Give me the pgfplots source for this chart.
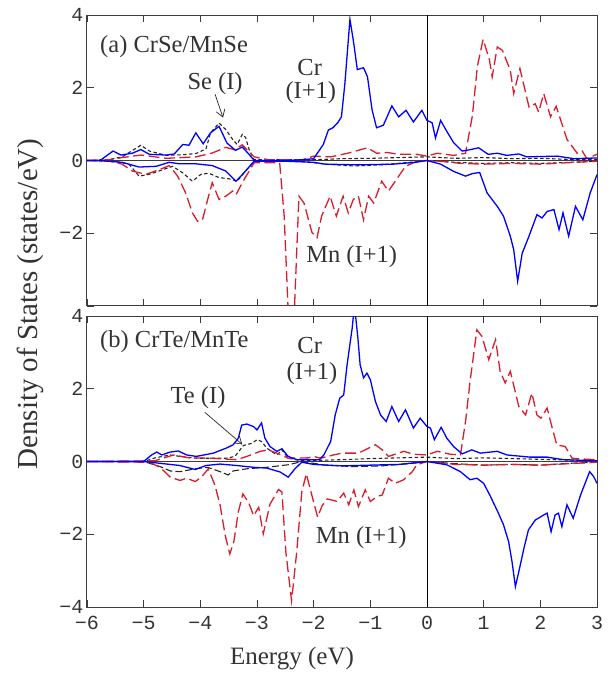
\documentclass[border=0pt]{standalone}
\usepackage{fontspec}
\setmainfont{Liberation Serif}
\newfontfamily\tickfont{Liberation Mono}
\usepackage{pgfplots}
\pgfplotsset{compat=1.18}
\usetikzlibrary{arrows.meta}

\definecolor{mnred}{RGB}{214,30,45}
\definecolor{axgray}{RGB}{60,60,60}

\pgfplotsset{
  dos/.style={
    scale only axis, width=510pt, height=291pt,
    xmin=-6, xmax=3, ymin=-4, ymax=4,
    xtick={-6,-5,...,3}, ytick={-4,-2,0,2,4},
    tick align=inside, major tick length=7pt,
    axis line style={axgray, line width=1pt},
    tick style={axgray, line width=0.9pt},
    ticklabel style={font=\tickfont\fontsize{20}{20}\selectfont, text=black!80},
    xticklabel style={yshift=-6pt},
  },
  cr/.style={blue, line width=1.3pt},
  mn/.style={mnred, line width=1.3pt, dash pattern=on 11pt off 4.5pt},
  an/.style={black!85, line width=1.1pt, dash pattern=on 3.5pt off 2.5pt},
  zl/.style={axgray, line width=1.1pt},
}
\tikzset{
  lab/.style={font=\fontsize{24.5}{26}\selectfont, text=black!80, inner sep=0pt},
  arr/.style={black!85, line width=0.7pt, -{Straight Barb[length=7pt,width=9pt]}},
}

\begin{document}
\begin{tikzpicture}
% (a) CrSe/MnSe
\begin{axis}[dos, name=a, at={(0,0)}, anchor=north west,
  xticklabels={}, yticklabels={{},−2,0,2,4}]
\addplot[zl] coordinates {(-6,0) (3,0)};
\addplot[black, line width=0.9pt] coordinates {(0,-4) (0,4)};
% Se (I) up / down
\addplot[an] coordinates {(-6,0) (-5.6,0.03) (-5.38,0.1) (-5.05,0.42) (-4.9,0.26) (-4.6,0.14) (-4.3,0.16) (-4.08,0.19) (-3.9,0.32) (-3.82,0.76) (-3.67,1.03) (-3.55,0.85) (-3.43,0.58) (-3.35,0.44) (-3.26,0.72) (-3.2,0.63) (-3.14,0.3) (-3.05,0.02) (-2.0,0.02) (-1.5,0.05) (-1.0,0.06) (-0.5,0.08) (0,0.1) (0.5,0.06) (1.0,0.08) (1.5,0.05) (2.0,0.06) (2.5,0.03) (3,0.02)};
\addplot[an] coordinates {(-6,0) (-5.5,-0.03) (-5.26,-0.1) (-5.08,-0.43) (-4.9,-0.38) (-4.66,-0.25) (-4.49,-0.16) (-4.31,-0.34) (-4.14,-0.57) (-3.99,-0.38) (-3.85,-0.35) (-3.67,-0.47) (-3.5,-0.5) (-3.35,-0.57) (-3.23,-0.34) (-3.05,-0.02) (-2.2,-0.02) (-1.8,-0.1) (-1.3,-0.15) (-0.8,-0.12) (-0.3,-0.05) (0,0) (0.5,-0.05) (1.0,-0.08) (1.5,-0.06) (2.0,-0.08) (2.5,-0.05) (3,-0.02)};
% Mn (I+1) up / down
\addplot[mn] coordinates {(-6,0) (-5.6,0.02) (-5.38,0.08) (-5.05,0.15) (-4.6,0.06) (-4.08,0.1) (-3.8,0.2) (-3.55,0.36) (-3.4,0.3) (-3.26,0.43) (-3.05,0.1) (-2.8,0.02) (-2.2,0.02) (-2.0,0.12) (-1.7,0.1) (-1.4,0.2) (-1.05,0.35) (-0.89,0.2) (-0.7,0.22) (-0.5,0.17) (-0.18,0.17) (0,0.12) (0.18,0.2) (0.47,0.14) (0.68,0.2) (0.8,1.22) (0.89,2.6) (0.99,3.33) (1.1,2.78) (1.15,2.3) (1.24,3.12) (1.33,3.03) (1.47,2.48) (1.53,1.84) (1.64,2.53) (1.8,1.47) (1.91,1.56) (1.97,1.33) (2.06,1.84) (2.18,1.2) (2.28,1.49) (2.47,0.58) (2.65,0.2) (2.74,0.26) (2.82,0.05) (3,0.17)};
\addplot[mn] coordinates {(-6,0) (-5.6,-0.02) (-5.38,-0.1) (-5.2,-0.29) (-4.96,-0.38) (-4.72,-0.25) (-4.55,-0.14) (-4.4,-0.43) (-4.26,-0.89) (-4.14,-1.44) (-4.05,-1.67) (-3.96,-1.62) (-3.87,-1.07) (-3.79,-0.61) (-3.67,-1.07) (-3.55,-0.98) (-3.43,-0.84) (-3.37,-0.94) (-3.26,-0.61) (-3.05,-0.06) (-2.6,-0.06) (-2.52,-1.53) (-2.44,-4.5) (-2.35,-4.5) (-2.26,-0.98) (-2.17,-1.17) (-2.03,-1.98) (-1.94,-2.12) (-1.86,-1.53) (-1.71,-0.98) (-1.6,-1.53) (-1.48,-0.98) (-1.39,-1.44) (-1.3,-1.07) (-1.21,-0.98) (-1.12,-1.63) (-1.03,-0.98) (-0.94,-1.17) (-0.8,-0.57) (-0.68,-0.84) (-0.56,-0.57) (-0.38,-0.16) (-0.18,-0.02) (0,0) (0.3,-0.03) (0.6,-0.08) (1.0,-0.1) (1.5,-0.08) (2.0,-0.1) (2.5,-0.06) (3,-0.02)};
% Cr (I+1) up / down
\addplot[cr] coordinates {(-6,0) (-5.77,0) (-5.54,0.26) (-5.4,0.15) (-5.2,0.2) (-5.05,0.3) (-4.9,0.17) (-4.6,0.15) (-4.46,0.18) (-4.31,0.44) (-4.2,0.42) (-4.08,0.76) (-3.95,0.46) (-3.82,0.76) (-3.67,0.94) (-3.53,0.48) (-3.38,0.28) (-3.26,0.37) (-3.14,0.17) (-3.05,0.0) (-2.5,0.0) (-2.2,0.02) (-2.0,0.05) (-1.83,0.44) (-1.74,0.84) (-1.66,0.9) (-1.57,1.05) (-1.51,1.2) (-1.45,2.1) (-1.36,3.88) (-1.3,3.3) (-1.23,2.5) (-1.12,2.55) (-1.05,2.3) (-0.97,1.4) (-0.89,0.9) (-0.77,0.97) (-0.62,1.5) (-0.5,1.2) (-0.37,1.38) (-0.24,1.06) (-0.09,1.38) (0,1.1) (0.09,1.04) (0.15,0.62) (0.24,1.1) (0.35,0.8) (0.47,0.49) (0.62,0.26) (0.77,0.3) (0.91,0.35) (1.08,0.17) (1.24,0.2) (1.41,0.14) (1.62,0.18) (1.76,0.1) (2.3,0.12) (2.59,0.05) (3,0.07)};
\addplot[cr] coordinates {(-6,0) (-5.77,0) (-5.38,-0.05) (-5.08,-0.18) (-4.78,-0.16) (-4.55,-0.05) (-4.37,-0.09) (-4.08,-0.09) (-3.79,-0.14) (-3.55,-0.29) (-3.37,-0.57) (-3.26,-0.39) (-3.05,-0.02) (-2.5,-0.02) (-2.0,-0.05) (-1.8,-0.1) (-1.2,-0.12) (-0.6,-0.1) (-0.2,-0.05) (0,0) (0.24,-0.1) (0.47,-0.3) (0.68,-0.43) (0.8,-0.36) (0.93,-0.33) (1.06,-0.89) (1.24,-1.26) (1.35,-1.53) (1.47,-2.08) (1.53,-2.45) (1.6,-3.32) (1.68,-2.55) (1.8,-2.08) (1.94,-1.49) (2.03,-1.58) (2.12,-1.4) (2.24,-1.35) (2.33,-1.9) (2.4,-1.44) (2.5,-2.08) (2.62,-1.26) (2.75,-1.63) (2.88,-0.89) (3.0,-0.39)};
\node[lab, anchor=west] at (axis cs:-5.77,3.12) {(a) CrSe/MnSe};
\node[lab] at (axis cs:-3.74,2.12) {Se (I)};
\draw[arr] (axis cs:-3.74,1.82) -- (axis cs:-3.6,1.18);
\node[lab] at (axis cs:-2.07,2.56) {Cr};
\node[lab] at (axis cs:-2.05,1.87) {(I+1)};
\node[lab] at (axis cs:-1.33,-2.64) {Mn (I+1)};
\end{axis}

% (b) CrTe/MnTe
\begin{axis}[dos, name=b, at={(0,-301pt)}, anchor=north west,
  xticklabels={−6,−5,−4,−3,−2,−1,0,1,2,3}, yticklabels={−4,−2,0,2,4}]
\addplot[zl] coordinates {(-6,0) (3,0)};
\addplot[black, line width=0.9pt] coordinates {(0,-4) (0,4)};
% Te (I) up / down
\addplot[an] coordinates {(-6,0) (-5.0,0) (-4.8,0.1) (-4.53,0.18) (-4.36,0.14) (-4.07,0.09) (-3.54,0.09) (-3.39,0.14) (-3.24,0.44) (-3.09,0.5) (-3.0,0.6) (-2.92,0.55) (-2.83,0.37) (-2.65,0.18) (-2.56,0.32) (-2.45,0.09) (-2.2,0.02) (-1.5,0.05) (-1.0,0.08) (-0.5,0.1) (0,0.12) (0.5,0.08) (1.0,0.1) (1.5,0.08) (2.0,0.06) (2.5,0.04) (3,0.02)};
\addplot[an, dash pattern=on 7pt off 3pt] coordinates {(-6,0) (-5.0,0) (-4.71,-0.14) (-4.53,-0.26) (-4.36,-0.28) (-4.09,-0.2) (-3.87,-0.16) (-3.65,-0.28) (-3.51,-0.37) (-3.42,-0.26) (-3.18,-0.2) (-2.83,-0.16) (-2.45,-0.09) (-2.2,0) (-1.8,-0.1) (-1.3,-0.14) (-0.8,-0.12) (-0.3,-0.06) (0,0) (0.5,-0.06) (1.0,-0.1) (1.5,-0.08) (2.0,-0.1) (2.5,-0.05) (3,-0.02)};
% Mn (I+1) up / down
\addplot[mn] coordinates {(-6,0) (-4.8,0.02) (-4.6,0.12) (-4.47,0.18) (-4.2,0.1) (-3.8,0.09) (-3.36,0.05) (-3.18,0.14) (-2.94,0.28) (-2.8,0.32) (-2.65,0.23) (-2.45,0.09) (-2.1,0.1) (-2.0,0.14) (-1.88,0.09) (-1.65,0.18) (-1.5,0.23) (-1.21,0.23) (-0.91,0.46) (-0.79,0.32) (-0.68,0.14) (-0.41,0.28) (-0.24,0.2) (0,0.18) (0.18,0.28) (0.41,0.2) (0.59,0.18) (0.68,1.1) (0.76,2.2) (0.88,3.62) (0.97,3.44) (1.09,2.8) (1.21,3.35) (1.29,2.48) (1.38,2.16) (1.47,2.48) (1.62,1.51) (1.74,1.28) (1.85,1.88) (1.94,1.28) (2.01,1.19) (2.12,1.47) (2.21,0.92) (2.29,0.46) (2.44,0.41) (2.56,0.09) (2.71,0.07) (3,0.05)};
\addplot[mn] coordinates {(-6,0) (-4.9,-0.02) (-4.71,-0.16) (-4.53,-0.43) (-4.36,-0.52) (-4.24,-0.46) (-4.09,-0.55) (-3.98,-0.43) (-3.86,-0.2) (-3.74,-0.66) (-3.65,-1.21) (-3.56,-2.04) (-3.48,-2.54) (-3.41,-2.22) (-3.33,-1.39) (-3.25,-0.89) (-3.15,-1.12) (-3.06,-1.49) (-2.97,-1.26) (-2.89,-1.99) (-2.77,-1.17) (-2.62,-0.77) (-2.56,-0.84) (-2.49,-2.5) (-2.39,-3.83) (-2.3,-2.5) (-2.21,-0.84) (-2.13,-0.34) (-2.03,-0.94) (-1.93,-1.53) (-1.85,-1.21) (-1.76,-1.03) (-1.65,-1.07) (-1.59,-1.1) (-1.47,-0.87) (-1.38,-1.19) (-1.29,-0.78) (-1.21,-1.24) (-1.09,-0.78) (-1.0,-1.1) (-0.88,-0.96) (-0.79,-0.92) (-0.68,-0.46) (-0.56,-0.6) (-0.41,-0.5) (-0.26,-0.28) (-0.18,-0.09) (0,0) (0.5,-0.08) (1.0,-0.1) (1.5,-0.08) (2.0,-0.1) (2.5,-0.06) (3,-0.02)};
% Cr (I+1) up / down
\addplot[cr] coordinates {(-6,0) (-5.0,0) (-4.86,0.18) (-4.77,0.26) (-4.68,0.18) (-4.53,0.26) (-4.39,0.29) (-4.24,0.18) (-4.07,0.14) (-3.77,0.23) (-3.54,0.37) (-3.42,0.46) (-3.33,0.64) (-3.27,1.0) (-3.18,1.03) (-3.06,0.96) (-3.0,0.87) (-2.92,1.06) (-2.86,0.64) (-2.77,0.41) (-2.65,0.28) (-2.56,0.35) (-2.45,0.14) (-2.3,0.05) (-1.9,0.05) (-1.82,0.18) (-1.7,0.55) (-1.62,1.28) (-1.54,1.74) (-1.47,1.83) (-1.41,2.66) (-1.32,3.67) (-1.28,4.3) (-1.22,3.4) (-1.18,2.66) (-1.12,2.3) (-1.06,2.43) (-1.0,2.25) (-0.91,1.65) (-0.82,1.28) (-0.72,1.1) (-0.62,1.51) (-0.5,1.1) (-0.38,1.42) (-0.24,0.92) (-0.12,1.19) (0,0.96) (0.06,0.92) (0.13,0.6) (0.25,0.94) (0.35,0.64) (0.47,0.41) (0.62,0.21) (0.79,0.32) (0.94,0.23) (1.24,0.28) (1.41,0.18) (1.82,0.12) (2.12,0.12) (2.41,0.05) (3,0.02)};
\addplot[cr] coordinates {(-6,0) (-5.0,0) (-4.71,-0.05) (-4.36,-0.11) (-4.09,-0.22) (-3.9,-0.11) (-3.65,-0.07) (-3.36,-0.11) (-3.06,-0.16) (-2.83,-0.18) (-2.59,-0.29) (-2.45,-0.43) (-2.33,-0.2) (-2.21,-0.02) (-2.0,-0.08) (-1.5,-0.12) (-1.0,-0.1) (-0.5,-0.08) (0,0) (0.35,-0.09) (0.59,-0.28) (0.76,-0.5) (0.88,-0.46) (1.0,-0.6) (1.12,-0.96) (1.26,-1.42) (1.35,-1.74) (1.44,-2.2) (1.5,-2.75) (1.56,-3.44) (1.62,-3.03) (1.71,-2.39) (1.79,-1.88) (1.91,-1.61) (2.06,-1.47) (2.12,-1.42) (2.19,-1.93) (2.26,-1.47) (2.32,-1.42) (2.38,-1.79) (2.47,-1.19) (2.58,-1.56) (2.71,-0.92) (2.87,-0.28) (2.94,-0.41) (3,-0.6)};
\node[lab, anchor=west] at (axis cs:-5.77,3.3) {(b) CrTe/MnTe};
\node[lab] at (axis cs:-4.04,1.76) {Te (I)};
\draw[arr] (axis cs:-3.92,1.35) -- (axis cs:-3.26,0.47);
\node[lab] at (axis cs:-2.07,3.2) {Cr};
\node[lab] at (axis cs:-2.03,2.42) {(I+1)};
\node[lab] at (axis cs:-1.16,-2.09) {Mn (I+1)};
\end{axis}

\node[font=\fontsize{25}{28}\selectfont, text=black!80] at (205pt,-644pt) {Energy (eV)};
\node[rotate=90, font=\fontsize{29}{32}\selectfont, text=black!80] at (-57pt,-289pt) {Density of States (states/eV)};
\pgfresetboundingbox
\path (-87pt,15pt) rectangle (526pt,-660pt);
\end{tikzpicture}
\end{document}
